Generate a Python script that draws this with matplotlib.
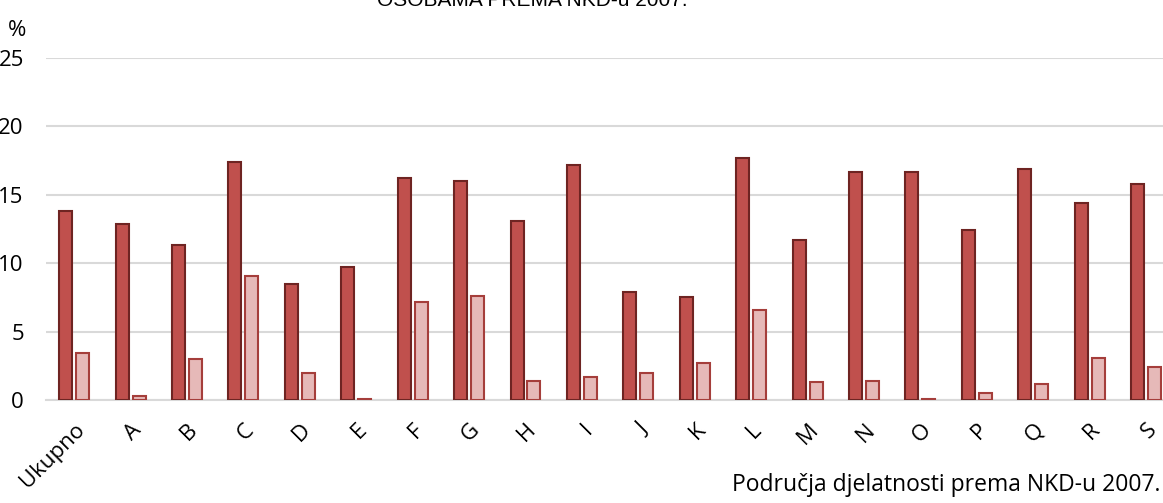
import numpy as np
import matplotlib.pyplot as plt

# Data
categories = ['Ukupno', 'A', 'B', 'C', 'D', 'E', 'F', 'G', 'H', 'I',
              'J', 'K', 'L', 'M', 'N', 'O', 'P', 'Q', 'R', 'S']
series_dark = [13.8, 12.9, 11.3, 17.4, 8.5, 9.7, 16.2, 16.0, 13.1, 17.2,
               7.9, 7.5, 17.7, 11.7, 16.7, 16.7, 12.4, 16.9, 14.4, 15.8]
series_light = [3.4, 0.3, 3.0, 9.1, 2.0, 0.1, 7.2, 7.6, 1.4, 1.7,
                2.0, 2.7, 6.6, 1.3, 1.4, 0.1, 0.5, 1.2, 3.1, 2.4]
y_ticks = [0, 5, 10, 15, 20, 25]

plt.rcParams['font.family'] = ['Open Sans', 'DejaVu Sans']

fig = plt.figure(figsize=(11.63, 5.03), dpi=100)
ax = fig.add_axes([46 / 1163, 103 / 503, 1117 / 1163, 342 / 503])

x = np.arange(len(categories))
w = 0.23
ax.bar(x - 0.15, series_dark, width=w, color='#C0504D', edgecolor='#6E2422', linewidth=1.5, zorder=3)
ax.bar(x + 0.15, series_light, width=w, color='#E6B9B8', edgecolor='#A53E3B', linewidth=1.5, zorder=3)

ax.set_xlim(-0.5, 19.3)
ax.set_ylim(0, 25)
ax.set_yticks(y_ticks)
ax.yaxis.grid(True, color='#D9D9D9', linewidth=1.5, zorder=0)
ax.set_axisbelow(True)
for s in ['top', 'right', 'left']:
    ax.spines[s].set_visible(False)
ax.spines['bottom'].set_color('#D9D9D9')
ax.spines['bottom'].set_linewidth(1.5)
ax.tick_params(axis='both', length=0, labelsize=16)
ax.tick_params(axis='y', pad=16)
ax.set_xticks(x)
ax.set_xticklabels(categories, rotation=45, ha='right', rotation_mode='anchor')
ax.tick_params(axis='x', pad=14)

fig.text(8 / 1163, 1 - 30 / 503, '%', fontsize=16, ha='left', va='center')
fig.text(532 / 1163, 1 - 1 / 503, 'OSOBAMA PREMA NKD-u 2007.', fontsize=15,
         family=['Liberation Sans'], ha='center', va='center')
fig.text(1160 / 1163, 1 - 485 / 503, 'Područja djelatnosti prema NKD-u 2007.',
         fontsize=16.5, ha='right', va='center')

fig.savefig('out.png', dpi=100)
